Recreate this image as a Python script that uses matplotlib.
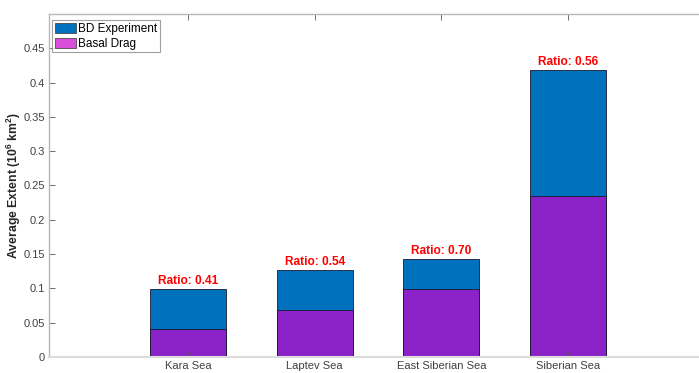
import numpy as np
import matplotlib.pyplot as plt

plt.rcParams['font.family'] = ['Liberation Sans', 'DejaVu Sans']
plt.rcParams['mathtext.fontset'] = 'custom'
plt.rcParams['mathtext.rm'] = 'Liberation Sans'
plt.rcParams['mathtext.bf'] = 'Liberation Sans:bold'

# data
seas = ['Kara Sea', 'Laptev Sea', 'East Siberian Sea', 'Siberian Sea']
bd_experiment = [0.099, 0.127, 0.1425, 0.418]
basal_drag = [0.0405, 0.0682, 0.0998, 0.235]
ratios = ['0.41', '0.54', '0.70', '0.56']
yticks = [0, 0.05, 0.1, 0.15, 0.2, 0.25, 0.3, 0.35, 0.4, 0.45]
ytick_labels = ['0', '0.05', '0.1', '0.15', '0.2', '0.25', '0.3', '0.35', '0.4', '0.45']

blue = '#0072BD'
purple = '#8B22C8'
magenta = '#D94FD9'
axis_gray = '#262626'

fig = plt.figure(figsize=(6.99, 3.73), dpi=100)
ax = fig.add_axes([0.0701, 0.0429, 0.9299, 0.9196])

x = np.arange(1, len(seas) + 1)
ax.bar(x, bd_experiment, width=0.6, color=blue, edgecolor='#1a1a2e', linewidth=0.6)
ax.bar(x, basal_drag, width=0.6, color=purple, edgecolor='#1a1a2e', linewidth=0.6)

for xi, top, r in zip(x, bd_experiment, ratios):
    ax.text(xi, top + 0.0075, 'Ratio: ' + r, color='red', fontweight='bold',
            fontsize=8.6, ha='center', va='baseline')

ax.set_xlim(-0.097, 5.033)
ax.set_ylim(0, 0.5)
ax.set_xticks(x)
ax.set_xticklabels(seas, fontsize=7.6)
ax.set_yticks(yticks)
ax.set_yticklabels(ytick_labels)
ax.tick_params(direction='in', length=4, width=0.6, color='#555555',
               labelcolor='#404040', labelsize=8, top=True, pad=3)
ax.tick_params(axis='x', pad=3)

ax.spines['right'].set_visible(False)
for s in ['left', 'top']:
    ax.spines[s].set_color('#b8b8b8')
    ax.spines[s].set_linewidth(1.0)
ax.spines['bottom'].set_color('#dcdcdc')
ax.spines['bottom'].set_linewidth(1.5)

ax.set_ylabel(r'Average Extent (10$^{\mathbf{6}}$ km$^{\mathbf{2}}$)', fontweight='bold',
              fontsize=8.8, color=axis_gray, labelpad=0)

h1 = plt.Rectangle((0, 0), 1, 1, facecolor=blue, edgecolor='#333333', linewidth=0.5)
h2 = plt.Rectangle((0, 0), 1, 1, facecolor=magenta, edgecolor='#333333', linewidth=0.5)
leg = ax.legend([h1, h2], ['BD Experiment', 'Basal Drag'], loc='upper left',
                bbox_to_anchor=(0.005, 0.982), fontsize=8.5, frameon=True, fancybox=False,
                edgecolor='#888888', borderpad=0.2, handlelength=1.8, handleheight=1.0,
                handletextpad=0.2, labelspacing=0.25, borderaxespad=0.0)
leg.get_frame().set_linewidth(0.8)

fig.savefig('out.png', dpi=100)
